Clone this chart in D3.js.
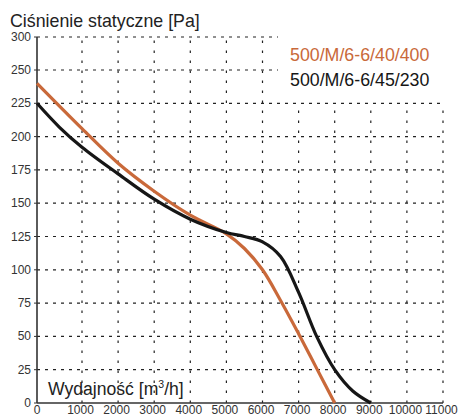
<!DOCTYPE html>
<html><head><meta charset="utf-8">
<script src="https://cdn.jsdelivr.net/npm/d3@7"></script>
<style>body{margin:0;background:#fff}svg{display:block}text{font-family:"Liberation Sans",Arial,sans-serif}</style>
</head><body><svg id="c" width="459" height="414"></svg>
<script>
const xTicks = [0,1000,2000,3000,4000,5000,6000,7000,8000,9000,10000,11000];
const yTicks = [0,25,50,75,100,125,150,175,200,225,250,300];
const seriesNames = ["500/M/6-6/40/400","500/M/6-6/45/230"];
const seriesColors = ["#c9693a","#161616"];
const orangeX = [0,1000,2000,3000,4000,5000,5500,6000,6500,7000,7500,8000];
const orangeY = [240,206,180,159,141,127,116,100,77,52,26,0];
const blackX = [0,500,1000,2000,3000,4000,5000,5500,6000,6500,7000,7500,8000,8500,9000];
const blackY = [225,207,192,172,153,138,128,125,121,110,83,50,25,9,0];

const svg = d3.select("#c");
const x = d3.scaleLinear().domain([0,1000,11000]).range([37,82,443]);
const y = d3.scaleLinear().domain([0,250,300]).range([403,70,37]);

// grid
const g = svg.append("g");
g.selectAll("line.h").data(yTicks.filter(d=>d>0)).join("line")
  .attr("x1",x(0)).attr("x2",d=> d>=250 ? 278 : x(11000))
  .attr("y1",d=>y(d)).attr("y2",d=>y(d))
  .attr("stroke","#222").attr("stroke-width",1.2).attr("stroke-dasharray","3,5");
g.selectAll("line.v").data(xTicks.filter(d=>d>0)).join("line")
  .attr("x1",d=>x(d)).attr("x2",d=>x(d))
  .attr("y1",y(0)).attr("y2",d=> d>=7000 ? y(225) : y(300))
  .attr("stroke","#222").attr("stroke-width",1.2).attr("stroke-dasharray","2.5,7.5");

// axes
svg.append("line").attr("x1",x(0)).attr("x2",x(0)).attr("y1",y(300)).attr("y2",y(0)).attr("stroke","#333").attr("stroke-width",1.6);
svg.append("line").attr("x1",x(0)).attr("x2",x(11000)).attr("y1",y(0)).attr("y2",y(0)).attr("stroke","#333").attr("stroke-width",1.6);
svg.selectAll("line.yt").data(yTicks).join("line")
  .attr("x1",x(0)-3).attr("x2",x(0)).attr("y1",d=>y(d)).attr("y2",d=>y(d)).attr("stroke","#333").attr("stroke-width",1);

svg.selectAll("text.yl").data(yTicks).join("text")
  .attr("x",31).attr("y",d=>y(d)+4).attr("text-anchor","end")
  .attr("font-size",12).attr("fill","#333").text(d=>d);
svg.selectAll("text.xl").data(xTicks).join("text")
  .attr("x",d=> d===0 ? x(d) : x(d)-1.5).attr("y",413.5).attr("text-anchor","middle")
  .attr("font-size",12).attr("fill","#333").text(d=>d);

// curves
const line = d3.line().x(d=>x(d[0])).y(d=>y(d[1])).curve(d3.curveCatmullRom.alpha(0.5));
const series = [d3.zip(orangeX,orangeY), d3.zip(blackX,blackY)];
svg.selectAll("path.s").data(series).join("path")
  .attr("d",line).attr("fill","none")
  .attr("stroke",(d,i)=>seriesColors[i]).attr("stroke-width",3.2).attr("stroke-linejoin","round");

// titles
svg.append("text").attr("x",10).attr("y",27).attr("font-size",17.8).attr("fill","#222").text("Ciśnienie statyczne [Pa]");
const xl = svg.append("text").attr("x",48).attr("y",395).attr("font-size",17.6).attr("fill","#222");
xl.append("tspan").text("Wydajność [m");
xl.append("tspan").attr("font-size",10.5).attr("dy",-7.5).text("3");
xl.append("tspan").attr("dy",7.5).text("/h]");

// legend
svg.selectAll("text.lg").data(seriesNames).join("text")
  .attr("x",290).attr("y",(d,i)=>61+i*25).attr("font-size",17.8)
  .attr("fill",(d,i)=>seriesColors[i]).text(d=>d);
</script></body></html>
